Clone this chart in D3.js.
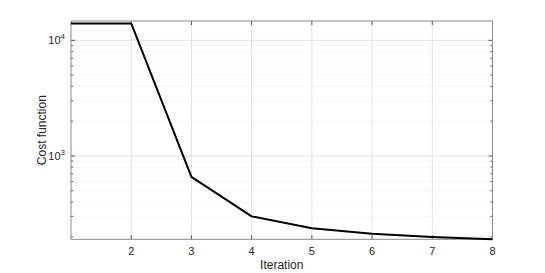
<!DOCTYPE html>
<html>
  <head>
    <meta charset="utf-8">
    <style>
      body { margin: 0; padding: 0; background: #fff; }
      svg text { font-family: 'Liberation Sans', Arial, sans-serif; }
    </style>
  </head>
  <body>
    <div id="chart"></div>
    <script src="https://d3js.org/d3.v7.min.js"></script>
    <script>
      var iterations = [1, 2, 3, 4, 5, 6, 7, 8];
      var cost = [14000, 14000, 658, 300, 237, 212, 199, 190];
      var xTicks = [2, 3, 4, 5, 6, 7, 8];
      var yMajor = [1000, 10000];
      var yMinor = [200, 300, 400, 500, 600, 700, 800, 900,
                    2000, 3000, 4000, 5000, 6000, 7000, 8000, 9000];

      var W = 545, H = 273;
      var margin = {top: 21, right: 52.5, bottom: 33.7, left: 71};
      var width = W - margin.left - margin.right,
          height = H - margin.top - margin.bottom;

      var svg = d3.select("#chart").append("svg")
          .attr("width", W)
          .attr("height", H);
      var g = svg.append("g")
          .attr("transform", "translate(" + margin.left + "," + margin.top + ")");

      var x = d3.scaleLinear().domain([1, 8]).range([0, width]);
      var y = d3.scaleLog().domain([190, 14700]).range([height, 0]);

      // grid
      g.append("g").selectAll("line")
        .data(yMinor)
        .enter().append("line")
          .attr("x1", 0).attr("x2", width)
          .attr("y1", d => y(d)).attr("y2", d => y(d))
          .attr("stroke", "#ececec")
          .attr("stroke-width", 1)
          .attr("stroke-dasharray", "1,1");
      g.append("g").selectAll("line")
        .data(yMajor)
        .enter().append("line")
          .attr("x1", 0).attr("x2", width)
          .attr("y1", d => y(d)).attr("y2", d => y(d))
          .attr("stroke", "#e2e2e2");
      g.append("g").selectAll("line")
        .data(xTicks)
        .enter().append("line")
          .attr("x1", d => x(d)).attr("x2", d => x(d))
          .attr("y1", 0).attr("y2", height)
          .attr("stroke", "#e2e2e2");

      // ticks (inside, both sides)
      var tk = g.append("g").attr("stroke", "#555").attr("stroke-width", 1);
      xTicks.forEach(function (d) {
        tk.append("line").attr("x1", x(d)).attr("x2", x(d)).attr("y1", height).attr("y2", height - 4);
        tk.append("line").attr("x1", x(d)).attr("x2", x(d)).attr("y1", 0).attr("y2", 4);
      });
      yMajor.forEach(function (d) {
        tk.append("line").attr("x1", 0).attr("x2", 4).attr("y1", y(d)).attr("y2", y(d));
        tk.append("line").attr("x1", width).attr("x2", width - 4).attr("y1", y(d)).attr("y2", y(d));
      });
      yMinor.forEach(function (d) {
        tk.append("line").attr("x1", 0).attr("x2", 2).attr("y1", y(d)).attr("y2", y(d));
        tk.append("line").attr("x1", width).attr("x2", width - 2).attr("y1", y(d)).attr("y2", y(d));
      });

      // box
      g.append("rect")
        .attr("x", 0).attr("y", 0)
        .attr("width", width).attr("height", height)
        .attr("fill", "none")
        .attr("stroke", "#8a8a8a")
        .attr("stroke-width", 1);

      // line
      var line = d3.line()
          .x((d, i) => x(iterations[i]))
          .y(d => y(d));
      g.append("path")
        .datum(cost)
        .attr("fill", "none")
        .attr("stroke", "#000")
        .attr("stroke-width", 2)
        .attr("stroke-linejoin", "round")
        .attr("d", line);

      // x tick labels
      g.append("g").selectAll("text")
        .data(xTicks)
        .enter().append("text")
          .attr("x", d => x(d))
          .attr("y", height + 16)
          .attr("text-anchor", "middle")
          .attr("font-size", "11px")
          .attr("fill", "#262626")
          .text(d => d);

      // y tick labels
      var yl = g.append("g").selectAll("text")
        .data(yMajor)
        .enter().append("text")
          .attr("x", -6)
          .attr("y", d => y(d) + 4)
          .attr("text-anchor", "end")
          .attr("font-size", "11px")
          .attr("fill", "#262626");
      yl.append("tspan").text("10");
      yl.append("tspan")
        .attr("dy", -5)
        .attr("font-size", "8px")
        .text(d => Math.round(Math.log10(d)));

      // axis labels
      svg.append("text")
        .attr("x", margin.left + width / 2)
        .attr("y", 269)
        .attr("text-anchor", "middle")
        .attr("font-size", "12px")
        .attr("fill", "#262626")
        .text("Iteration");

      svg.append("text")
        .attr("transform", "translate(46," + (margin.top + height / 2) + ") rotate(-90)")
        .attr("text-anchor", "middle")
        .attr("font-size", "12px")
        .attr("fill", "#262626")
        .text("Cost function");
    </script>
  </body>
</html>
